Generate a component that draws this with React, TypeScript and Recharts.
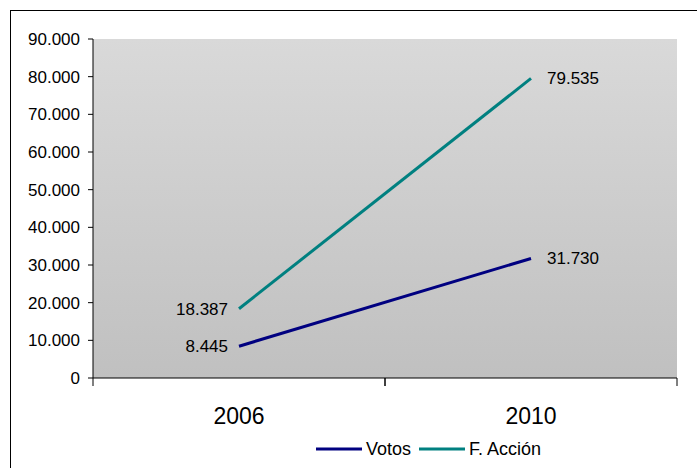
import {
  LineChart,
  Line,
  XAxis,
  YAxis,
  CartesianGrid,
  Legend,
  LabelList,
} from "recharts";

const years = ["2006", "2010"];
const votos = [8445, 31730];
const fAccion = [18387, 79535];
const yTicks = [0, 10000, 20000, 30000, 40000, 50000, 60000, 70000, 80000, 90000];

const data = years.map((year, i) => ({
  year,
  votos: votos[i],
  fAccion: fAccion[i],
}));

const FONT = "'Liberation Sans', Arial, sans-serif";
const HALF_BAND = 146;

// 10000 -> "10.000"
const fmt = (v: number) =>
  String(Math.round(v)).replace(/\B(?=(\d{3})+(?!\d))/g, ".");

const YearTick = (props: any) => {
  const { x, y, payload } = props;
  return (
    <g>
      <line x1={x - HALF_BAND} x2={x - HALF_BAND} y1={y} y2={y + 8} stroke="#000" />
      <line x1={x + HALF_BAND} x2={x + HALF_BAND} y1={y} y2={y + 8} stroke="#000" />
      <text
        x={x}
        y={y + 46}
        textAnchor="middle"
        fontSize={23}
        fontFamily={FONT}
        fill="#000"
      >
        {payload.value}
      </text>
    </g>
  );
};

const PointLabel = (props: any) => {
  const { x, y, value, index } = props;
  const left = index === 0;
  return (
    <text
      x={left ? x - 11 : x + 16}
      y={y}
      dy="0.35em"
      textAnchor={left ? "end" : "start"}
      fontSize={17}
      fontFamily={FONT}
      fill="#000"
    >
      {fmt(Number(value))}
    </text>
  );
};

const legendItems = [
  { name: "Votos", color: "#000080" },
  { name: "F. Acción", color: "#008080" },
];

const ChartLegend = () => (
  <div
    style={{
      display: "flex",
      alignItems: "center",
      height: 28,
      paddingLeft: 303,
      fontFamily: FONT,
      fontSize: 18,
      color: "#000",
    }}
  >
    {legendItems.map((item) => (
      <div key={item.name} style={{ display: "flex", alignItems: "center", marginRight: 8 }}>
        <svg width={46} height={4}>
          <line x1={0} x2={46} y1={2} y2={2} stroke={item.color} strokeWidth={3} />
        </svg>
        <span style={{ marginLeft: 4 }}>{item.name}</span>
      </div>
    ))}
  </div>
);

export default function App() {
  return (
    <div
      style={{
        position: "fixed",
        left: 0,
        top: 0,
        width: 697,
        height: 468,
        overflow: "hidden",
        background: "#fff",
      }}
    >
      <div
        style={{
          position: "absolute",
          left: 10,
          top: 10,
          width: 800,
          height: 600,
          border: "1px solid #000",
        }}
      />
      <div style={{ position: "absolute", left: 0, top: 0 }}>
        <LineChart
          width={697}
          height={468}
          data={data}
          margin={{ top: 39, right: 20, left: 13, bottom: 5 }}
        >
          <defs>
            <linearGradient id="plotBg" x1="0" y1="0" x2="0" y2="1">
              <stop offset="0%" stopColor="#d9d9d9" />
              <stop offset="100%" stopColor="#c0c0c0" />
            </linearGradient>
          </defs>

          <CartesianGrid
            horizontal={false}
            vertical={false}
            fill="url(#plotBg)"
            fillOpacity={1}
          />

          <XAxis
            dataKey="year"
            height={57}
            padding={{ left: HALF_BAND, right: HALF_BAND }}
            axisLine={{ stroke: "#000" }}
            tickLine={false}
            tickSize={0}
            tickMargin={0}
            tick={<YearTick />}
            interval={0}
          />
          <XAxis
            xAxisId="top"
            orientation="top"
            dataKey="year"
            height={0}
            padding={{ left: HALF_BAND, right: HALF_BAND }}
            axisLine={{ stroke: "#808080" }}
            tick={false}
            tickLine={false}
          />

          <YAxis
            width={80}
            domain={[0, 90000]}
            ticks={yTicks}
            interval={0}
            tickFormatter={fmt}
            axisLine={{ stroke: "#000" }}
            tickLine={{ stroke: "#000" }}
            tickSize={5}
            tickMargin={8}
            tick={{ fontSize: 17, fontFamily: FONT, fill: "#000" }}
          />
          <YAxis
            yAxisId="right"
            orientation="right"
            width={0}
            domain={[0, 90000]}
            axisLine={{ stroke: "#808080" }}
            tick={false}
            tickLine={false}
          />

          <Legend
            verticalAlign="bottom"
            wrapperStyle={{ height: 28 }}
            content={<ChartLegend />}
          />

          <Line
            dataKey="votos"
            name="Votos"
            stroke="#000080"
            strokeWidth={3}
            dot={false}
            activeDot={false}
            isAnimationActive={false}
          >
            <LabelList dataKey="votos" content={<PointLabel />} />
          </Line>
          <Line
            dataKey="fAccion"
            name="F. Acción"
            stroke="#008080"
            strokeWidth={3}
            dot={false}
            activeDot={false}
            isAnimationActive={false}
          >
            <LabelList dataKey="fAccion" content={<PointLabel />} />
          </Line>
        </LineChart>
      </div>
    </div>
  );
}
